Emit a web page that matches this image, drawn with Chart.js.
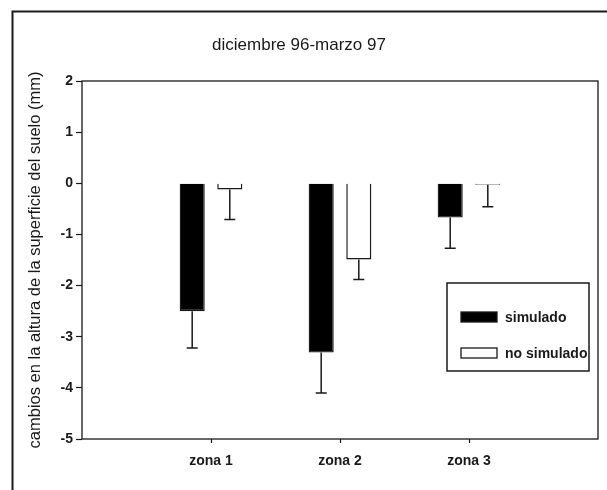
<!DOCTYPE html>
<html>
<head>
<meta charset="utf-8">
<script src="https://cdn.jsdelivr.net/npm/chart.js@4.4.1/dist/chart.umd.min.js"></script>
<style>
  body { margin: 0; background: #fff; }
  canvas { display: block; }
</style>
</head>
<body>
<canvas id="chart" width="607" height="490"></canvas>
<script>
// data
const zonas = ['zona 1', 'zona 2', 'zona 3'];
const simulado = [-2.5, -3.31, -0.67];
const noSimulado = [-0.12, -1.49, -0.03];
// one-sided (downward) error bars
const simuladoErr = [0.72, 0.79, 0.6];
const noSimuladoErr = [0.59, 0.39, 0.43];
const yTicks = [2, 1, 0, -1, -2, -3, -4, -5];

const ink = '#1a1a1a';
const FONT = '"Liberation Sans", Arial, sans-serif';

// error bars drawn from the end of each bar downward
const errorBars = {
  id: 'errorBars',
  afterDatasetsDraw(chart) {
    const { ctx, scales: { y } } = chart;
    ctx.save();
    ctx.strokeStyle = ink;
    ctx.lineWidth = 1.5;
    chart.data.datasets.forEach((ds, di) => {
      const meta = chart.getDatasetMeta(di);
      meta.data.forEach((bar, i) => {
        const v = ds.data[i].y;
        const end = y.getPixelForValue(v - ds.errors[i]);
        ctx.beginPath();
        ctx.moveTo(bar.x, bar.y);
        ctx.lineTo(bar.x, end);
        ctx.moveTo(bar.x - 5.5, end);
        ctx.lineTo(bar.x + 5.5, end);
        ctx.stroke();
      });
    });
    ctx.restore();
  }
};

// plot frame, outer figure frame and the boxed legend
const frames = {
  id: 'frames',
  afterDraw(chart) {
    const { ctx, chartArea: a } = chart;
    ctx.save();
    ctx.strokeStyle = ink;
    ctx.lineWidth = 1.3;
    ctx.strokeRect(a.left, a.top, a.right - a.left, a.bottom - a.top);

    // outer frame (only top and left edges are inside the picture)
    ctx.lineWidth = 2;
    ctx.beginPath();
    ctx.moveTo(12.5, 490);
    ctx.lineTo(12.5, 11.5);
    ctx.lineTo(607, 11.5);
    ctx.stroke();

    // legend
    const lx = 447, ly = 283, lw = 142, lh = 88;
    ctx.fillStyle = '#fff';
    ctx.fillRect(lx, ly, lw, lh);
    ctx.lineWidth = 1.5;
    ctx.strokeRect(lx, ly, lw, lh);
    ctx.font = 'bold 14px ' + FONT;
    ctx.textBaseline = 'middle';
    const rows = [317, 353];
    chart.data.datasets.forEach((ds, i) => {
      const cy = rows[i];
      ctx.fillStyle = ds.backgroundColor;
      ctx.fillRect(461, cy - 5, 36, 10);
      ctx.lineWidth = 1.3;
      ctx.strokeStyle = ink;
      ctx.strokeRect(461, cy - 5, 36, 10);
      ctx.fillStyle = ink;
      ctx.fillText(ds.label, 505, cy + 1);
    });
    ctx.restore();
  }
};

const chart = new Chart(document.getElementById('chart'), {
  type: 'bar',
  data: {
    datasets: [
      {
        label: 'simulado',
        data: zonas.map((z, i) => ({ x: i + 1, y: simulado[i] })),
        errors: simuladoErr,
        backgroundColor: '#000',
        borderColor: ink,
        borderWidth: 1.3
      },
      {
        label: 'no simulado',
        data: zonas.map((z, i) => ({ x: i + 1, y: noSimulado[i] })),
        errors: noSimuladoErr,
        backgroundColor: '#fff',
        borderColor: ink,
        borderWidth: 1.5
      }
    ]
  },
  options: {
    responsive: false,
    animation: false,
    barPercentage: 0.667,
    categoryPercentage: 0.583,
    layout: { padding: { left: 0, right: 9, bottom: 0, top: 0 } },
    plugins: {
      legend: { display: false },
      tooltip: { enabled: false },
      title: {
        display: true,
        text: 'diciembre 96-marzo 97',
        color: ink,
        font: { family: FONT, size: 17, weight: 'normal' },
        padding: { top: 35, bottom: 25.6 }
      }
    },
    scales: {
      x: {
        type: 'linear',
        min: 0,
        max: 4,
        offset: false,
        afterBuildTicks: s => { s.ticks = zonas.map((z, i) => ({ value: i + 1 })); },
        afterFit: s => { s.height = 51; },
        border: { display: false },
        grid: { offset: false, drawOnChartArea: false, tickLength: 4, color: ink, tickWidth: 1.2 },
        ticks: {
          callback: v => zonas[v - 1] || '',
          color: ink,
          padding: 10,
          maxRotation: 0,
          font: { family: FONT, size: 14, weight: 'bold' }
        }
      },
      y: {
        min: -5,
        max: 2,
        afterBuildTicks: s => { s.ticks = yTicks.map(v => ({ value: v })); },
        afterFit: s => { s.width = 82; },
        border: { display: false },
        grid: { drawOnChartArea: false, tickLength: 6, color: ink, tickWidth: 1.2 },
        ticks: {
          color: ink,
          padding: 3,
          font: { family: FONT, size: 14, weight: 'bold' }
        },
        title: {
          display: true,
          text: 'cambios en la altura de la superficie del suelo (mm)',
          color: ink,
          font: { family: FONT, size: 16.5, weight: 'normal' },
          padding: { top: 26, bottom: 0 }
        }
      }
    }
  },
  plugins: [errorBars, frames]
});
</script>
</body>
</html>
